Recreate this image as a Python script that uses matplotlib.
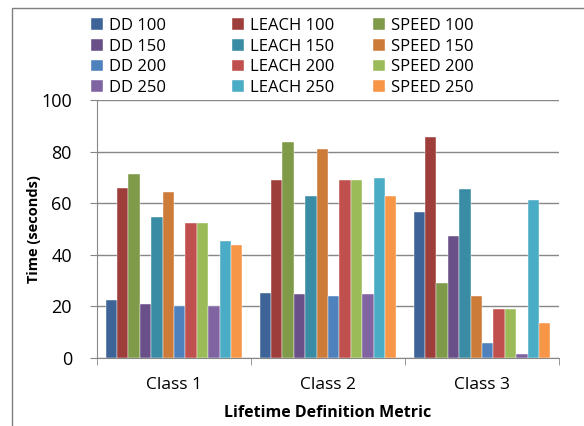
import numpy as np
import matplotlib
matplotlib.use("Agg")
import matplotlib.pyplot as plt
from matplotlib.patches import Rectangle

classes = ["Class 1", "Class 2", "Class 3"]
series = ["DD 100", "LEACH 100", "SPEED 100",
          "DD 150", "LEACH 150", "SPEED 150",
          "DD 200", "LEACH 200", "SPEED 200",
          "DD 250", "LEACH 250", "SPEED 250"]
values = [
    [22.3, 25.2, 56.7],   # DD 100
    [65.7, 68.8, 85.8],   # LEACH 100
    [71.2, 83.6, 29.2],   # SPEED 100
    [21.0, 24.8, 47.3],   # DD 150
    [54.6, 62.9, 65.5],   # LEACH 150
    [64.2, 81.0, 24.1],   # SPEED 150
    [20.0, 24.0, 5.9],    # DD 200
    [52.4, 69.1, 18.8],   # LEACH 200
    [52.4, 69.1, 18.8],   # SPEED 200
    [20.0, 24.8, 1.4],    # DD 250
    [45.3, 69.9, 61.3],   # LEACH 250
    [43.8, 62.9, 13.7],   # SPEED 250
]
colors = ["#3E6497", "#9E3E3B", "#7F9A48", "#6A5089", "#3A8CA5", "#CD7B38",
          "#4F81BD", "#C0504D", "#9BBB59", "#8064A2", "#4BACC6", "#F79646"]

plt.rcParams['font.family'] = ['Open Sans', 'DejaVu Sans']

W, H = 584, 426
fig = plt.figure(figsize=(W / 100, H / 100), dpi=100)
ax = fig.add_axes([97 / W, 1 - 358 / H, (559 - 97) / W, (358 - 100) / H])

# chart area frame
fig.patches.append(Rectangle((12 / W, -0.1), 1.2, 1 - 8 / H + 0.1, transform=fig.transFigure,
                             fill=False, edgecolor="#7f7f7f", lw=1.0))

n = len(series)
w = 1 / (n + 1.5)
x = np.arange(len(classes))
handles = []
for i, (name, vals) in enumerate(zip(series, values)):
    pos = x - 0.5 + 0.75 * w + i * w + w / 2
    b = ax.bar(pos, vals, width=w, color=colors[i], label=name, zorder=3,
               edgecolor="white", linewidth=0.3)
    handles.append(b)

ax.set_xlim(-0.5, 2.5)
ax.set_ylim(0, 100)
ax.set_yticks(range(0, 101, 20))
ax.yaxis.grid(True, color="#878787", lw=1)
ax.set_xticks(x)
ax.set_xticklabels(classes, fontsize=12.5)
ax.set_xticks([-0.5, 0.5, 1.5, 2.5], minor=True)
ax.tick_params(axis="x", which="major", length=0, pad=14)
ax.tick_params(axis="x", which="minor", length=5, color="#878787")
ax.tick_params(axis="y", labelsize=13, length=5, color="#878787", pad=13)
for s in ["top", "right"]:
    ax.spines[s].set_visible(False)
for s in ["left", "bottom"]:
    ax.spines[s].set_color("#878787")

ax.set_xlabel("Lifetime Definition Metric", fontsize=11.5, fontweight="bold", labelpad=8)
ax.set_ylabel("Time (seconds)", fontsize=10.5, fontweight="bold", labelpad=0)

# legend: three equal-width columns, filled row by row
col_x = [91, 232, 373]
for j in range(3):
    leg = fig.legend(handles[j::3], series[j::3], loc="upper left",
                     bbox_to_anchor=(col_x[j] / W, 1 - 18 / H), bbox_transform=fig.transFigure,
                     frameon=False, fontsize=12, handlelength=0.7, handleheight=0.7,
                     handletextpad=0.4, labelspacing=0.28, borderpad=0, borderaxespad=0)

fig.savefig("out.png", dpi=100)
